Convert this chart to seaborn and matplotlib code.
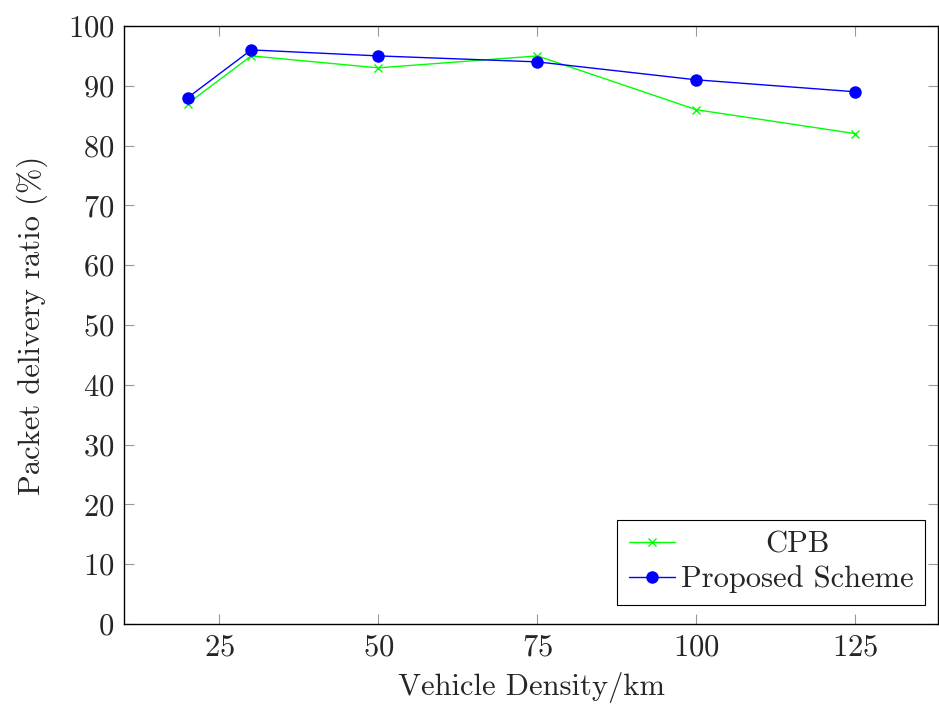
import matplotlib
matplotlib.use("Agg")
import matplotlib.pyplot as plt
import matplotlib.transforms as mtransforms
import seaborn as sns

density = [20, 30, 50, 75, 100, 125]
cpb = [87, 95, 93, 95, 86, 82]
proposed = [88, 96, 95, 94, 91, 89]
series_names = ["CPB", "Proposed Scheme"]
x_ticks = [25, 50, 75, 100, 125]
y_ticks = [0, 10, 20, 30, 40, 50, 60, 70, 80, 90, 100]

sns.set_theme(style="ticks")
plt.rcParams["font.family"] = ["serif"]
plt.rcParams["font.serif"] = ["cmr10", "DejaVu Serif"]
plt.rcParams["mathtext.fontset"] = "cm"
plt.rcParams["axes.formatter.use_mathtext"] = True

fig = plt.figure(figsize=(9.39, 7.11), dpi=100)
ax = fig.add_axes([124 / 939, 87 / 711, 814 / 939, 598 / 711])

sns.lineplot(x=density, y=cpb, color="#00ff00", marker="x", markersize=6,
             markeredgewidth=1.0, markeredgecolor="#00ff00",
             linewidth=1.0, ax=ax, label=series_names[0])
sns.lineplot(x=density, y=proposed, color="#0000ff", marker="o", markersize=9,
             markeredgewidth=0, linewidth=1.0, ax=ax, label=series_names[1])

ax.set_xlim(10, 138)
ax.set_ylim(0, 100)
ax.set_xticks(x_ticks)
ax.set_yticks(y_ticks)
for s in ax.spines.values():
    s.set_linewidth(1.0)
    s.set_color("black")
ax.tick_params(direction="in", length=7, width=0.8, color="#999999",
               top=True, right=True, labelsize=22, pad=7)
ax.set_xlabel("Vehicle Density/km", fontsize=22, labelpad=8)
ax.set_ylabel("Packet delivery ratio (%)", fontsize=22, labelpad=14)

leg = ax.legend(loc="lower right", bbox_to_anchor=(0.984, 0.032), fontsize=22,
                frameon=True, fancybox=False, edgecolor="black", framealpha=1,
                borderaxespad=0.0, handlelength=1.5, handletextpad=0.2,
                borderpad=0.38, labelspacing=0.22)
leg.get_frame().set_linewidth(0.8)

fig.canvas.draw()
r = fig.canvas.get_renderer()
texts = leg.get_texts()
widths = [t.get_window_extent(r).width for t in texts]
wmax = max(widths)
for t, w in zip(texts, widths):
    dx = (wmax - w) / 2
    t.set_transform(t.get_transform() + mtransforms.Affine2D().translate(dx, 0))

fig.savefig("out.png", dpi=100)
